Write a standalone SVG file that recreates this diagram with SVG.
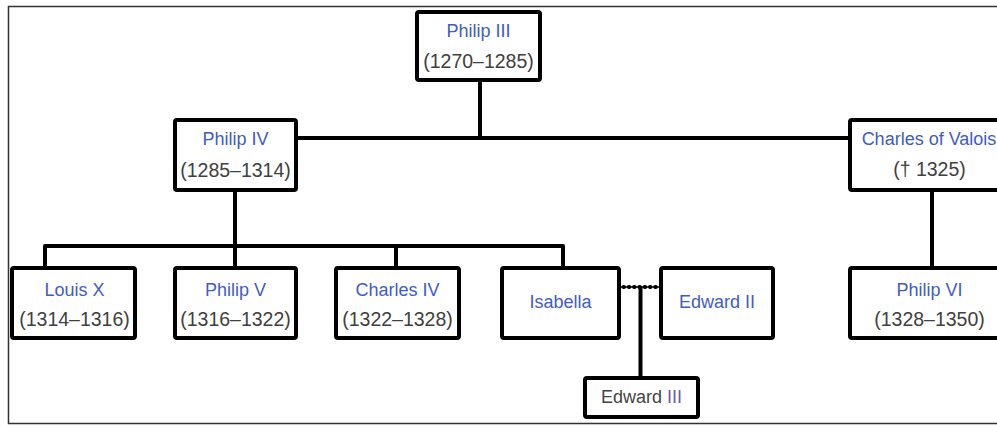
<svg xmlns="http://www.w3.org/2000/svg" width="997" height="426" viewBox="0 0 997 426">
<style>
.box{fill:#fff;stroke:#000;stroke-width:4;}
.ln{fill:none;stroke:#000;stroke-width:4;stroke-linejoin:round;}
.nm{font-family:"Liberation Sans",Arial,sans-serif;font-size:18px;fill:#3f5cc4;text-anchor:middle;}
.yr{font-family:"Liberation Sans",Arial,sans-serif;font-size:19.5px;fill:#404040;text-anchor:middle;}
</style>
<rect width="997" height="426" fill="#fff"/>
<path d="M997,6.5 H8.5 V423.5 H997" fill="none" stroke="#333" stroke-width="1.5"/>
<g id="connectors">
<path class="ln" d="M480,80 V138 M296,138 H850"/>
<path class="ln" d="M235,190 V268 M45,268 V246 H563 V268 M396,246 V268"/>
<path d="M621,287 H659" fill="none" stroke="#000" stroke-width="1.5"/>
<path d="M623.5,287 H659" fill="none" stroke="#000" stroke-width="4" stroke-linecap="round" stroke-dasharray="0.5,4.8"/>
<path class="ln" d="M640.5,287 V378"/>
<path class="ln" d="M932,190 V268"/>
</g>
<g id="philip3"><rect class="box" x="417" y="12" width="123" height="68" rx="2"/><text class="nm" x="478.5" y="37">Philip III</text><text class="yr" x="478.5" y="68">(1270–1285)</text></g>
<g id="philip4"><rect class="box" x="175" y="120" width="121" height="70" rx="2"/><text class="nm" x="235.5" y="145">Philip IV</text><text class="yr" x="235.5" y="177">(1285–1314)</text></g>
<g id="charlesvalois"><rect class="box" x="850" y="120" width="160" height="70" rx="2"/><text class="nm" x="929" y="145">Charles of Valois</text><text class="yr" x="929.5" y="176">(† 1325)</text></g>
<g id="louis10"><rect class="box" x="12" y="268" width="123" height="70" rx="2"/><text class="nm" x="74.5" y="296">Louis X</text><text class="yr" x="74.5" y="326">(1314–1316)</text></g>
<g id="philip5"><rect class="box" x="175" y="268" width="121" height="70" rx="2"/><text class="nm" x="235.5" y="296">Philip V</text><text class="yr" x="235.5" y="326">(1316–1322)</text></g>
<g id="charles4"><rect class="box" x="336" y="268" width="123" height="70" rx="2"/><text class="nm" x="397.5" y="296">Charles IV</text><text class="yr" x="397.5" y="326">(1322–1328)</text></g>
<g id="isabella"><rect class="box" x="502" y="268" width="117" height="70" rx="2"/><text class="nm" x="560.5" y="308">Isabella</text></g>
<g id="edward2"><rect class="box" x="661" y="268" width="112" height="70" rx="2"/><text class="nm" x="717" y="308">Edward II</text></g>
<g id="edward3"><rect class="box" x="585" y="378" width="113" height="39" rx="2"/><text class="nm" x="641.5" y="403"><tspan fill="#444">Edward </tspan><tspan fill="#6e56a8">III</tspan></text></g>
<g id="philip6"><rect class="box" x="850" y="268" width="160" height="70" rx="2"/><text class="nm" x="929.5" y="296">Philip VI</text><text class="yr" x="929.5" y="326">(1328–1350)</text></g>
</svg>
